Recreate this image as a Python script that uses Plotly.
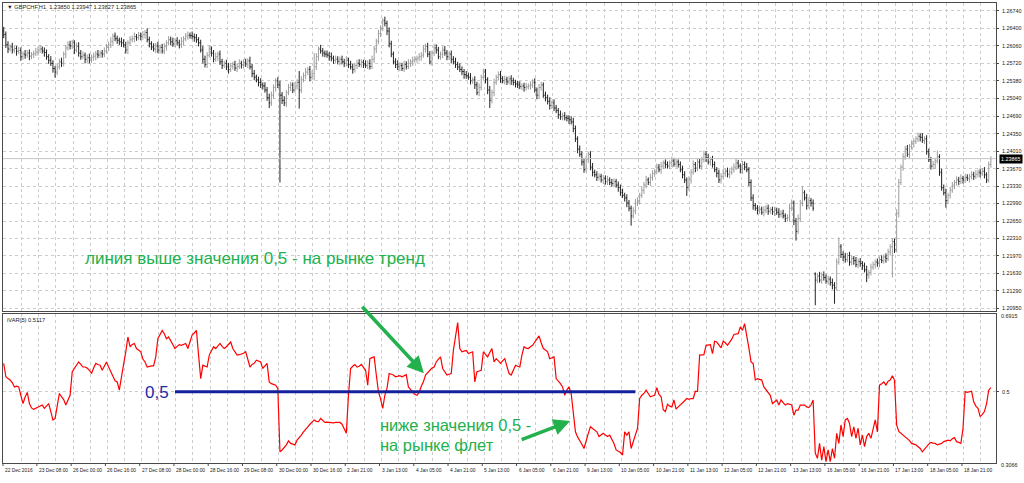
import plotly.graph_objects as go

# ---------------- DATA ----------------
# GBPCHF H1 closes, in pips above 1.2000 (i.e. price = 1.2 + v/10000)
close_pips = [
    628,608,600,604,598,601,595,597,585,590,588,592,586,589,591,594,
    598,600,596,593,585,578,572,562,555,565,575,572,590,602,608,606,
    612,598,605,592,585,588,580,583,578,584,586,590,588,592,590,596,
    603,608,615,625,620,617,614,612,608,598,612,618,620,624,622,626,
    624,628,632,618,610,604,600,606,598,603,596,605,612,618,614,610,
    616,612,608,615,620,625,627,626,624,622,618,612,598,580,570,588,
    600,592,580,585,590,575,568,572,565,560,567,570,563,566,572,569,
    574,571,577,565,552,545,540,535,530,528,520,505,495,510,525,538,
    530,510,500,495,515,525,530,520,528,535,520,540,548,555,560,545,
    552,565,585,600,596,592,590,588,585,582,578,580,576,580,575,572,
    578,570,565,560,568,572,570,574,571,568,572,566,580,600,615,630,
    640,655,650,635,610,590,575,570,565,568,562,570,566,572,575,578,
    580,582,585,588,600,605,590,575,592,602,598,585,590,598,592,585,
    590,580,575,570,565,560,556,550,548,545,538,540,530,515,525,545,
    555,540,520,500,515,535,545,550,542,538,540,536,542,538,535,532,
    530,527,528,525,526,528,530,535,520,510,525,530,510,505,498,490,
    495,485,480,472,468,470,466,465,462,458,445,425,405,395,380,365,
    385,395,370,360,355,350,352,345,348,342,345,340,338,342,335,330,
    320,315,310,300,290,275,285,300,305,315,325,335,345,340,350,358,
    362,370,365,372,378,375,372,378,382,376,380,375,365,355,345,330,
    345,360,375,368,380,372,385,395,388,380,385,375,365,358,345,352,
    358,362,356,360,366,370,378,372,365,375,370,365,340,310,295,290,
    285,288,282,286,290,284,287,283,286,282,278,280,275,270,272,290,
    300,265,245,270,300,320,310,295,305,300,290,150,158,150,160,155,
    148,152,145,140,135,185,215,200,195,190,198,185,192,188,180,186,
    182,178,170,160,165,175,180,185,182,190,188,195,192,205,215,225,
    210,280,340,370,390,405,395,410,415,420,425,430,428,422,425,400,
    385,372,375,382,390,360,330,320,305,315,325,335,340,345,342,348,
    345,350,348,352,355,352,356,360,358,362,355,345,375,386,
]
# upper / lower wick of each bar beyond its body, in pips
up_wick = [
    8,6,7,5,8,6,5,7,6,5,8,6,7,5,6,8,
    6,8,5,7,6,5,8,6,5,7,6,8,5,6,7,8,
    6,5,7,8,6,7,5,6,8,5,7,6,8,5,6,7,
    7,6,8,5,7,6,5,8,7,6,5,7,6,8,5,7,
    6,7,5,8,6,5,7,6,8,5,7,6,5,7,6,8,
    5,7,6,8,5,6,7,5,8,6,7,5,6,8,7,6,
    7,5,6,8,5,7,6,5,7,8,6,5,7,6,8,5,
    6,7,5,8,6,7,5,6,8,5,7,6,8,7,6,5,
    7,8,6,8,5,7,6,5,7,6,22,7,6,8,5,7,
    6,27,7,5,8,6,5,7,6,8,5,7,6,5,7,6,
    8,5,7,6,5,7,8,6,5,7,6,8,7,6,5,7,
    6,5,8,5,7,6,5,7,8,6,5,7,6,8,5,7,
    6,5,7,6,8,5,7,6,5,8,7,6,5,7,8,6,
    5,7,6,8,5,7,6,5,7,6,8,5,7,6,8,5,
    7,6,5,8,6,7,5,6,7,5,8,6,5,7,6,5,
    6,7,5,6,8,5,7,6,8,5,7,6,5,7,6,8,
    5,7,6,5,8,6,7,5,6,7,8,6,5,7,6,8,
    7,5,6,8,5,7,6,5,7,6,8,5,7,6,5,7,
    6,8,5,7,6,5,7,8,6,5,7,6,8,5,7,6,
    5,7,6,8,5,7,6,5,8,6,7,5,6,8,7,5,
    7,6,8,5,7,6,5,7,6,8,5,7,6,5,7,6,
    8,5,7,6,5,7,8,6,5,7,6,8,5,6,7,5,
    6,7,5,8,6,7,5,6,7,5,8,6,7,5,6,8,
    7,5,6,8,6,13,5,8,6,5,7,3,6,8,5,7,
    6,7,5,8,6,7,18,5,6,8,5,7,6,5,7,6,
    7,5,6,8,5,7,6,5,7,6,8,5,7,6,5,7,
    6,8,7,5,7,6,8,5,7,6,5,7,6,8,5,7,
    6,5,7,6,12,5,7,6,8,5,7,6,5,7,6,8,
    5,7,6,5,7,6,8,5,7,6,8,5,6,5,
]
down_wick = [
    7,6,8,5,7,6,8,5,8,6,7,5,8,6,7,5,
    7,6,5,8,6,7,5,8,11,6,5,7,6,8,5,7,
    6,8,5,7,6,5,8,7,6,5,7,8,6,5,7,6,
    5,7,6,8,5,7,6,8,5,7,8,6,5,7,6,5,
    7,6,8,5,7,6,5,8,6,7,5,6,8,5,7,6,
    6,5,7,6,8,5,7,6,5,8,6,7,5,8,6,7,
    5,7,6,5,8,6,7,5,6,8,5,7,6,8,5,7,
    7,6,8,5,7,6,5,8,6,7,5,6,10,6,7,8,
    6,170,7,6,8,5,7,6,5,7,36,6,5,7,6,8,
    5,13,6,8,5,7,6,5,8,6,7,5,6,8,5,7,
    6,7,5,8,6,7,5,6,8,5,7,6,5,7,8,6,
    7,5,6,8,7,6,5,7,6,8,5,7,6,5,7,8,
    5,7,6,8,5,7,6,5,8,6,7,5,6,8,5,7,
    6,8,5,7,6,5,7,8,6,5,7,6,8,5,7,6,
    5,7,8,15,6,7,5,6,8,5,7,6,5,8,6,7,
    6,5,7,8,6,5,7,6,5,8,7,6,5,7,6,8,
    7,6,5,8,6,7,5,6,8,5,7,6,8,5,7,6,
    5,7,6,8,5,7,6,5,8,6,7,5,6,7,5,8,
    6,5,7,8,6,19,5,7,6,8,5,7,6,5,7,6,
    7,6,5,8,6,7,5,6,8,5,7,6,5,7,6,16,
    6,7,5,8,6,5,7,6,8,5,7,6,5,8,6,7,
    5,7,6,8,5,7,6,5,7,8,6,5,7,6,8,5,
    7,6,5,8,6,7,5,6,8,5,7,6,5,7,6,8,
    6,8,18,5,7,6,5,8,6,7,5,49,6,5,7,6,
    5,7,6,8,31,6,5,7,8,6,5,7,6,8,5,7,
    6,8,5,14,7,6,5,8,6,7,5,6,8,5,7,60,
    7,6,8,5,7,6,5,8,6,7,5,6,8,5,7,6,
    5,7,6,8,5,7,6,5,14,7,6,5,8,6,7,5,
    7,6,5,8,6,7,5,6,8,5,7,6,5,6,
]
first_open_pips = 635
gap_bars = [379]          # bars that open away from the previous close (Monday gap)
gap_open_pips = [162]

# iVAR(5) values, in thousandths
ivar_milli = [
    578,541,536,532,525,513,515,513,490,467,485,498,467,455,451,454,
    456,460,463,454,460,467,445,422,426,460,495,486,478,463,475,490,
    555,565,573,582,575,568,568,565,559,550,565,578,575,573,559,570,
    582,568,555,541,530,527,504,541,573,610,651,624,630,633,619,615,
    610,590,582,568,570,571,571,596,646,658,669,660,646,651,640,628,
    619,625,630,628,630,633,619,635,656,662,669,601,536,573,570,568,
    601,612,624,619,625,633,625,619,624,630,637,619,610,601,602,603,
    606,610,591,568,575,578,587,585,582,564,570,578,527,522,520,518,
    509,334,339,346,353,364,357,355,353,366,372,380,389,395,403,410,
    417,422,418,417,426,420,415,416,415,415,414,415,415,415,410,399,
    385,490,564,570,575,568,570,575,565,559,518,591,594,596,546,500,
    480,454,490,509,550,548,546,541,543,544,541,545,547,513,505,498,
    492,490,498,515,527,546,552,559,565,568,582,590,596,564,555,546,
    548,550,614,660,691,619,610,612,614,605,608,610,527,555,557,559,
    610,603,596,608,619,582,591,585,578,585,591,570,550,546,560,573,
    570,568,601,624,620,619,624,628,637,645,654,635,619,615,610,591,
    594,596,536,530,522,513,490,505,513,495,431,389,375,366,355,343,
    366,385,403,399,395,389,376,380,385,380,376,380,368,357,339,335,
    332,325,389,380,389,343,362,380,399,481,490,495,504,495,486,488,
    490,511,492,486,450,445,465,460,458,477,452,458,463,470,475,481,
    479,481,481,501,500,601,602,602,628,630,630,605,639,637,630,621,
    639,635,628,637,645,658,660,660,679,669,688,647,620,582,578,532,
    536,534,532,513,505,495,490,467,472,477,463,477,470,463,467,465,
    463,435,449,449,463,463,463,458,456,463,477,330,316,357,311,348,
    307,339,307,343,316,385,357,408,376,422,426,412,376,403,371,399,
    353,380,348,376,385,371,394,422,389,518,522,527,518,529,532,544,
    532,408,390,385,380,375,371,365,357,355,353,348,343,334,340,348,
    355,360,358,357,353,355,357,362,364,366,364,370,373,362,360,357,
    399,500,498,500,501,472,460,454,431,437,445,467,504,511,
]

price_labels = ["1.26740", "1.26400", "1.26060", "1.25720", "1.25380", "1.25040",
                "1.24690", "1.24350", "1.24010", "1.23670", "1.23330", "1.22990",
                "1.22650", "1.22310", "1.21970", "1.21630", "1.21290", "1.20950"]
time_labels = ["22 Dec 2016", "23 Dec 08:00", "26 Dec 00:00", "26 Dec 16:00", "27 Dec 08:00",
               "28 Dec 00:00", "28 Dec 16:00", "29 Dec 08:00", "30 Dec 00:00", "30 Dec 16:00",
               "2 Jan 21:00", "3 Jan 13:00", "4 Jan 05:00", "4 Jan 21:00", "5 Jan 13:00",
               "6 Jan 05:00", "6 Jan 21:00", "9 Jan 13:00", "10 Jan 05:00", "10 Jan 21:00",
               "11 Jan 13:00", "12 Jan 05:00", "12 Jan 21:00", "13 Jan 13:00", "16 Jan 05:00",
               "16 Jan 21:00", "17 Jan 13:00", "18 Jan 05:00", "18 Jan 21:00"]
label_every_bars = 16
grid_every_bars = 8

header_text = "\u25bc GBPCHF,H1  1.23850 1.23947 1.23827 1.23865"
ind_header_text = "iVAR(5) 0.5117"
current_price = 1.23865
current_price_text = "1.23865"
ivar_max_text, ivar_min_text, ivar_mid_text = "0.6915", "0.3066", "0.5"
level_value = 0.5
level_bars = [80, 295]
note_trend = "линия выше значения 0,5 - на рынке тренд"
note_flat_1 = "ниже значения 0,5 -"
note_flat_2 = "на рынке флет"
level_text = "0,5"

# ---------------- BUILD ----------------
n = len(close_pips)
bars = list(range(n))
close = [1.2 + v / 10000 for v in close_pips]
opens = [1.2 + first_open_pips / 10000] + close[:-1]
for b, o in zip(gap_bars, gap_open_pips):
    opens[b] = 1.2 + o / 10000
high = [max(o, c) + u / 10000 for o, c, u in zip(opens, close, up_wick)]
low = [min(o, c) - d / 10000 for o, c, d in zip(opens, close, down_wick)]
ivar = [v / 1000 for v in ivar_milli]

X0, X1 = -0.33, 463.4
W, H = 1024, 483
ML, MR, MT, MB = 2, 24, 2, 20
PW, PH = W - ML - MR, H - MT - MB


def px_x(px):
    return (px - ML) / PW


def px_y(py):
    return (H - MB - py) / PH


GREEN = "#22b14c"
FONT = "Liberation Sans"
GRID = "#cccccc"
AX = "#4a4a4a"
AXIS_SIZE = 5.4
TIME_SIZE = 4.9
HEAD_SIZE = 5.7

fig = go.Figure()
fig.add_trace(go.Ohlc(
    x=bars, open=opens, high=high, low=low, close=close,
    increasing=dict(line=dict(color="#9c9c9c", width=1)),
    decreasing=dict(line=dict(color="#222222", width=1)),
    tickwidth=0.45, hoverinfo="skip", xaxis="x", yaxis="y"))
fig.add_trace(go.Scatter(
    x=bars, y=ivar, mode="lines", line=dict(color="#ff0000", width=1.2),
    hoverinfo="skip", xaxis="x2", yaxis="y2"))
fig.add_trace(go.Scatter(
    x=level_bars, y=[level_value, level_value], mode="lines",
    line=dict(color="#13219c", width=3), hoverinfo="skip", xaxis="x2", yaxis="y2"))

tick_font = dict(family=FONT, size=AXIS_SIZE, color="#202020")
grid_positions = [k * grid_every_bars + 0.36 for k in range(1, n // grid_every_bars + 2)]
xgrid = dict(tickmode="array", tickvals=grid_positions, showgrid=True,
             gridcolor=GRID, griddash="dot", gridwidth=1, showticklabels=False,
             ticks="", zeroline=False, showline=True, mirror=True, linecolor=AX,
             linewidth=1, range=[X0, X1])

main_bottom = px_y(311)
ind_top = px_y(314)
fig.update_layout(
    width=W, height=H, margin=dict(l=ML, r=MR, t=MT, b=MB),
    paper_bgcolor="white", plot_bgcolor="white", showlegend=False,
    xaxis=dict(**xgrid, anchor="y", rangeslider=dict(visible=False)),
    xaxis2=dict(**xgrid, anchor="y2", matches="x"),
    yaxis=dict(domain=[main_bottom, 1], range=[1.20892, 1.26895], side="right",
               anchor="x", tickmode="array",
               tickvals=[float(s) for s in price_labels], ticktext=price_labels,
               ticks="outside", ticklen=2, tickcolor=AX, tickfont=tick_font,
               ticklabelstandoff=2,
               showgrid=True, gridcolor=GRID, griddash="dot", zeroline=False,
               showline=True, mirror=True, linecolor=AX, linewidth=1),
    yaxis2=dict(domain=[0, ind_top], range=[0.3030, 0.7135], side="right",
                anchor="x2", tickmode="array", tickvals=[level_value],
                ticktext=[ivar_mid_text], ticks="outside", ticklen=2, tickcolor=AX,
                tickfont=tick_font, ticklabelstandoff=2,
                showgrid=True, gridcolor=GRID, griddash="dot",
                zeroline=False, showline=True, mirror=True, linecolor=AX, linewidth=1),
)

# current price line
fig.add_shape(type="line", xref="paper", yref="y", x0=0, x1=1,
              y0=current_price, y1=current_price, line=dict(color="#c4c4c4", width=1))

ann = []
ann.append(dict(xref="paper", yref="y", x=1, y=current_price, xanchor="left",
                xshift=3, text=current_price_text, showarrow=False,
                font=dict(family=FONT, size=AXIS_SIZE, color="white"), bgcolor="black",
                borderpad=1))
ann.append(dict(xref="paper", yref="paper", x=px_x(4), y=px_y(6), xanchor="left",
                yanchor="middle", text=header_text, showarrow=False,
                font=dict(family=FONT, size=HEAD_SIZE, color="#202020")))
ann.append(dict(xref="paper", yref="paper", x=px_x(4), y=px_y(320), xanchor="left",
                yanchor="middle", text=ind_header_text, showarrow=False,
                font=dict(family=FONT, size=HEAD_SIZE, color="#202020")))
ann.append(dict(xref="paper", yref="paper", x=px_x(1003), y=px_y(316), xanchor="left",
                yanchor="middle", text=ivar_max_text, showarrow=False, font=tick_font))
ann.append(dict(xref="paper", yref="paper", x=px_x(1003), y=px_y(465), xanchor="left",
                yanchor="middle", text=ivar_min_text, showarrow=False, font=tick_font))

# time labels with tick marks
for k, lab in enumerate(time_labels):
    pos = k * label_every_bars - 0.5
    xp = max((pos - X0) / (X1 - X0), 0)
    ann.append(dict(xref="paper", yref="paper", x=xp, y=0, xanchor="left",
                    yanchor="top", xshift=0, yshift=-3, text=lab, showarrow=False,
                    font=dict(family=FONT, size=TIME_SIZE, color="#202020")))
    fig.add_shape(type="line", xref="paper", yref="paper", ysizemode="pixel",
                  yanchor=0, x0=xp, x1=xp, y0=0, y1=-3,
                  line=dict(color=AX, width=1))

# notes
ann.append(dict(xref="paper", yref="paper", x=px_x(255), y=px_y(258), xanchor="center",
                yanchor="middle", text=note_trend, showarrow=False,
                font=dict(family=FONT, size=17, color=GREEN)))
ann.append(dict(xref="paper", yref="paper", x=px_x(379), y=px_y(425), xanchor="left",
                yanchor="middle", text=note_flat_1, showarrow=False,
                font=dict(family=FONT, size=16.5, color=GREEN)))
ann.append(dict(xref="paper", yref="paper", x=px_x(379), y=px_y(445), xanchor="left",
                yanchor="middle", text=note_flat_2, showarrow=False,
                font=dict(family=FONT, size=16.5, color=GREEN)))
ann.append(dict(xref="paper", yref="paper", x=px_x(171), y=px_y(392), xanchor="right",
                yanchor="middle", text=level_text, showarrow=False,
                font=dict(family=FONT, size=17, color="#1b2aa8")))
# arrows
ann.append(dict(xref="paper", yref="paper", x=px_x(425), y=px_y(373), text="",
                showarrow=True, axref="pixel", ayref="pixel", ax=-63, ay=-68,
                arrowcolor=GREEN, arrowwidth=3.5, arrowhead=2, arrowsize=0.95,
                standoff=0, startstandoff=0))
ann.append(dict(xref="paper", yref="paper", x=px_x(572), y=px_y(421), text="",
                showarrow=True, axref="pixel", ayref="pixel", ax=-50, ay=19,
                arrowcolor=GREEN, arrowwidth=3.5, arrowhead=2, arrowsize=0.95,
                standoff=0, startstandoff=0))
fig.update_layout(annotations=ann)

fig.write_html("out.html", config={"displayModeBar": False},
               post_script="document.body.style.margin='0';document.body.style.overflow='hidden';")
